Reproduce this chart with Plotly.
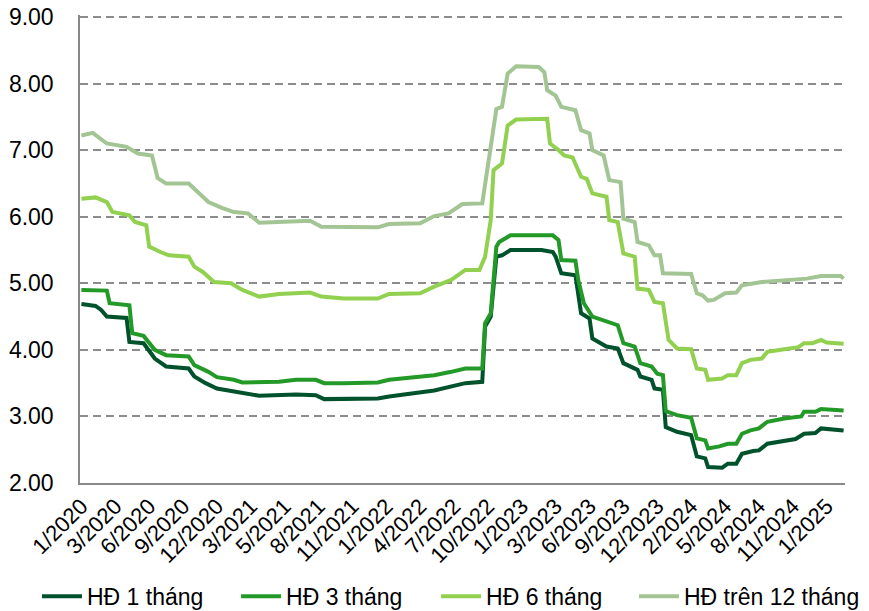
import plotly.graph_objects as go

# Lãi suất tiền gửi (%/năm) theo tuần, đọc từ biểu đồ gốc
# trục x: chỉ số tuần kể từ 1/2020

tick_weeks = list(range(0, 265, 12))
tick_labels = ["1/2020", "3/2020", "6/2020", "9/2020", "12/2020", "3/2021", "5/2021",
               "8/2021", "11/2021", "1/2022", "4/2022", "7/2022", "10/2022", "1/2023",
               "3/2023", "6/2023", "9/2023", "12/2023", "2/2024", "5/2024", "8/2024",
               "11/2024", "1/2025"]

# HĐ 1 tháng
w_1m = [0, 5, 7, 9, 16, 17, 22, 26, 30, 38, 40, 44, 48, 54, 63, 76, 83, 86, 105, 109,
        125, 133, 136, 142, 143, 145, 147, 149, 152, 163, 167, 168, 170, 175, 177, 180,
        181, 186, 190, 192, 197, 198, 202, 203, 206, 207, 211, 216, 218, 221, 222, 227,
        229, 232, 234, 238, 240, 243, 249, 253, 256, 260, 262, 270]
v_1m = [4.69, 4.66, 4.60, 4.50, 4.48, 4.12, 4.10, 3.87, 3.75, 3.72, 3.60, 3.50, 3.42, 3.37,
        3.31, 3.33, 3.32, 3.26, 3.27, 3.30, 3.39, 3.47, 3.50, 3.52, 4.35, 4.50, 5.40, 5.42,
        5.50, 5.50, 5.47, 5.40, 5.15, 5.12, 4.55, 4.47, 4.17, 4.05, 4.02, 3.80, 3.70, 3.60,
        3.55, 3.42, 3.40, 2.84, 2.77, 2.72, 2.40, 2.37, 2.24, 2.23, 2.29, 2.29, 2.44, 2.48,
        2.49, 2.59, 2.64, 2.66, 2.74, 2.75, 2.82, 2.79]

# HĐ 3 tháng
w_3m = [0, 9, 10, 17, 18, 22, 26, 30, 38, 40, 45, 48, 54, 57, 70, 76, 83, 86, 93, 105,
        109, 125, 131, 136, 142, 143, 145, 147, 148, 152, 167, 169, 170, 175, 176, 178,
        181, 186, 190, 192, 196, 198, 202, 204, 206, 207, 211, 216, 218, 221, 222, 226,
        229, 232, 234, 237, 240, 243, 249, 255, 256, 260, 262, 270]
v_3m = [4.90, 4.89, 4.70, 4.67, 4.25, 4.21, 4.00, 3.92, 3.90, 3.77, 3.67, 3.59, 3.55, 3.51,
        3.52, 3.55, 3.55, 3.50, 3.50, 3.51, 3.55, 3.62, 3.67, 3.72, 3.72, 4.40, 4.55, 5.55,
        5.62, 5.72, 5.72, 5.65, 5.35, 5.34, 5.05, 4.70, 4.50, 4.42, 4.37, 4.10, 4.05, 3.80,
        3.75, 3.64, 3.62, 3.08, 3.02, 2.98, 2.67, 2.64, 2.52, 2.55, 2.59, 2.59, 2.74, 2.79,
        2.82, 2.92, 2.97, 3.00, 3.07, 3.07, 3.11, 3.09]

# HĐ 6 tháng
w_6m = [0, 5, 9, 11, 17, 19, 23, 24, 28, 31, 38, 40, 43, 47, 53, 57, 63, 70, 81, 85,
        93, 105, 109, 120, 125, 131, 136, 141, 143, 145, 146, 149, 151, 154, 165, 166,
        169, 171, 174, 177, 179, 181, 186, 187, 190, 192, 196, 197, 201, 203, 206, 208,
        211, 216, 218, 221, 222, 227, 229, 232, 234, 237, 241, 243, 249, 254, 256, 259,
        262, 264, 270]
v_6m = [6.27, 6.29, 6.22, 6.07, 6.02, 5.92, 5.87, 5.55, 5.47, 5.42, 5.40, 5.25, 5.17, 5.02,
        5.00, 4.90, 4.80, 4.84, 4.86, 4.80, 4.77, 4.77, 4.84, 4.85, 4.95, 5.05, 5.20, 5.20,
        5.40, 5.95, 6.70, 6.80, 7.37, 7.46, 7.47, 7.10, 7.00, 6.92, 6.89, 6.60, 6.57, 6.35,
        6.30, 5.95, 5.92, 5.45, 5.40, 4.92, 4.90, 4.72, 4.70, 4.15, 4.02, 4.01, 3.72, 3.70,
        3.55, 3.57, 3.62, 3.62, 3.80, 3.85, 3.87, 3.97, 4.01, 4.04, 4.10, 4.10, 4.15, 4.11,
        4.09]

# HĐ trên 12 tháng
w_12m = [0, 4, 9, 16, 20, 25, 27, 30, 38, 45, 50, 54, 59, 63, 81, 85, 105, 109, 120, 125,
         130, 135, 142, 143, 145, 147, 149, 151, 154, 162, 164, 165, 168, 170, 175, 177,
         180, 181, 185, 187, 191, 192, 196, 197, 201, 203, 205, 206, 216, 218, 220, 222,
         224, 228, 232, 234, 241, 250, 257, 262, 269, 270]
v_12m = [7.22, 7.26, 7.10, 7.05, 6.95, 6.92, 6.58, 6.50, 6.50, 6.22, 6.13, 6.07, 6.05, 5.91,
         5.94, 5.85, 5.84, 5.89, 5.90, 6.01, 6.05, 6.19, 6.20, 6.50, 7.05, 7.62, 7.65, 8.15,
         8.26, 8.25, 8.17, 7.90, 7.82, 7.65, 7.60, 7.30, 7.25, 7.00, 6.92, 6.55, 6.52, 5.97,
         5.92, 5.62, 5.57, 5.42, 5.42, 5.15, 5.14, 4.85, 4.82, 4.74, 4.75, 4.85, 4.86, 4.97,
         5.02, 5.05, 5.07, 5.11, 5.11, 5.07]

series = [
    ("HĐ 1 tháng", w_1m, v_1m, "#00522C"),
    ("HĐ 3 tháng", w_3m, v_3m, "#239A28"),
    ("HĐ 6 tháng", w_6m, v_6m, "#92D050"),
    ("HĐ trên 12 tháng", w_12m, v_12m, "#A3C593"),
]

FONT = "Liberation Sans, Arial, sans-serif"

# mỗi mục chú giải là một legend riêng để đặt đúng vị trí
legend_ids = ["legend", "legend2", "legend3", "legend4"]
legend_x = [-0.0562, 0.2040, 0.4654, 0.7242]

fig = go.Figure()
for (name, w, v, color), lid in zip(series, legend_ids):
    fig.add_trace(
        go.Scatter(
            x=w,
            y=v,
            mode="lines",
            name=name,
            legend=lid,
            line=dict(color=color, width=4),
        )
    )

# trang html có lề body 8px, nên khung hình nhỏ hơn cửa sổ 8px
layout_updates = {
    'width': 861,
    'height': 603,
    'margin': dict(l=72, r=24, t=7, b=128, autoexpand=False),
    'paper_bgcolor': "white",
    'plot_bgcolor': "white",
    'font': dict(family=FONT, size=23, color="#000000"),
    'showlegend': True,
}
for lid, lx in zip(legend_ids, legend_x):
    layout_updates[lid] = dict(
        orientation="h",
        x=lx,
        xanchor="left",
        y=-0.242,
        yanchor="middle",
        font=dict(size=23),
        itemwidth=40,
        bgcolor="rgba(0,0,0,0)",
    )
fig.update_layout(**layout_updates)

fig.update_xaxes(
    range=[-0.5, 270.5],
    tickmode="array",
    tickvals=tick_weeks,
    ticktext=tick_labels,
    tickangle=-45,
    showgrid=False,
    zeroline=False,
    showline=True,
    linecolor="#898989",
    linewidth=1.5,
    ticks="",
    tickfont=dict(size=22),
    ticklabeloverflow="allow",
)

# mở rộng nhẹ trên 9.00 để vạch lưới trên cùng không bị cắt bỏ ở mép
fig.update_yaxes(
    range=[2, 9.03],
    tickvals=[2, 3, 4, 5, 6, 7, 8, 9],
    tickformat=".2f",
    showgrid=True,
    gridcolor="#8C8C8C",
    gridwidth=1.5,
    griddash="8px,5px",
    zeroline=False,
    showline=True,
    linecolor="#898989",
    linewidth=1.5,
    ticks="",
    ticklabelstandoff=20,
    ticklabeloverflow="allow",
)

fig.write_html("out.html")
